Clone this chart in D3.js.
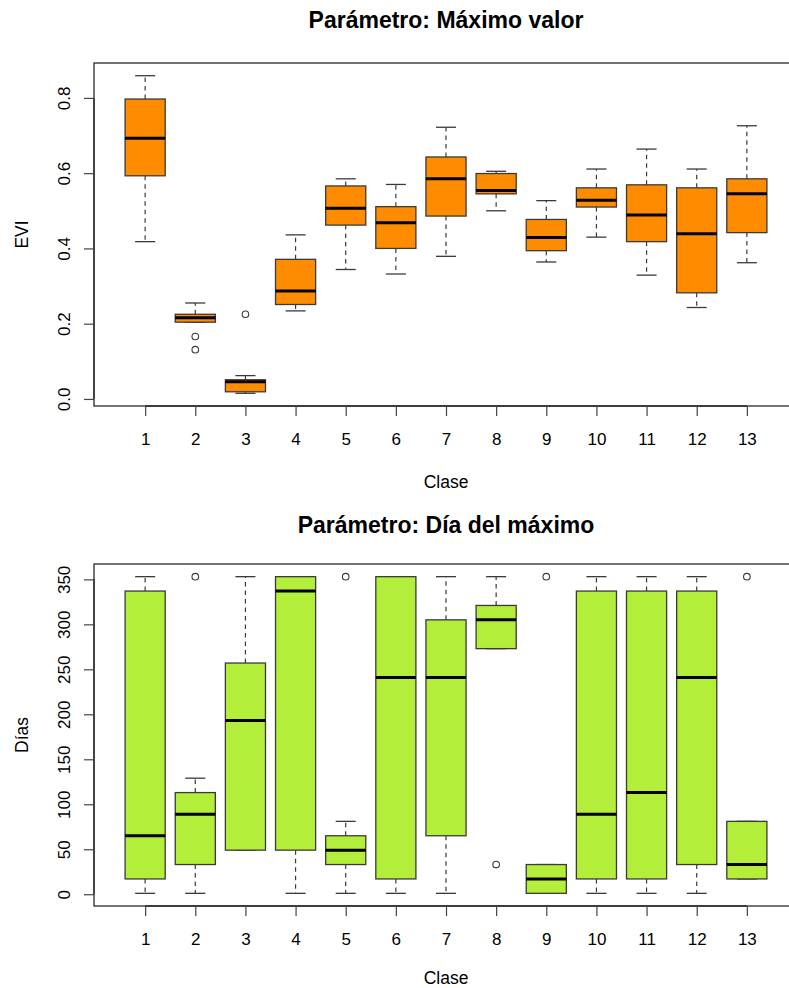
<!DOCTYPE html>
<html>
<head>
<meta charset="utf-8">
<script src="https://cdn.jsdelivr.net/npm/d3@7/dist/d3.min.js"></script>
<style>
  html, body { margin: 0; padding: 0; background: #fff; }
  svg { display: block; }
  text { font-family: "Liberation Sans", Arial, sans-serif; fill: #000; }
</style>
</head>
<body>
<svg id="chart" width="789" height="988"></svg>
<script>
// Classes on the x axis
const classes = [1, 2, 3, 4, 5, 6, 7, 8, 9, 10, 11, 12, 13];

// Panel 1: maximum EVI value per class (boxplot statistics)
const eviLow    = [0.418, 0.204, 0.015, 0.234, 0.344, 0.332, 0.379, 0.500, 0.364, 0.430, 0.329, 0.243, 0.362];
const eviQ1     = [0.593, 0.204, 0.019, 0.251, 0.462, 0.400, 0.486, 0.545, 0.394, 0.510, 0.418, 0.282, 0.442];
const eviMedian = [0.693, 0.216, 0.046, 0.287, 0.507, 0.468, 0.585, 0.554, 0.429, 0.528, 0.489, 0.439, 0.545];
const eviQ3     = [0.797, 0.225, 0.051, 0.371, 0.566, 0.511, 0.643, 0.599, 0.477, 0.561, 0.569, 0.561, 0.585];
const eviHigh   = [0.859, 0.255, 0.062, 0.436, 0.585, 0.570, 0.722, 0.605, 0.527, 0.611, 0.664, 0.611, 0.726];
const eviOutClass = [2, 2, 3];
const eviOutValue = [0.166, 0.131, 0.225];
const eviTicks = [0.0, 0.2, 0.4, 0.6, 0.8];

// Panel 2: day of the year of the maximum per class
const dayLow    = [1, 1, 49, 1, 1, 1, 1, 273, 1, 1, 1, 1, 17];
const dayQ1     = [17, 33, 49, 49, 33, 17, 65, 273, 1, 17, 17, 33, 17];
const dayMedian = [65, 89, 193, 337, 49, 241, 241, 305, 17, 89, 113, 241, 33];
const dayQ3     = [337, 113, 257, 353, 65, 353, 305, 321, 33, 337, 337, 337, 81];
const dayHigh   = [353, 129, 353, 353, 81, 353, 353, 353, 33, 353, 353, 353, 81];
const dayOutClass = [2, 5, 8, 9, 13];
const dayOutValue = [353, 353, 33, 353, 353];
const dayTicks = [0, 50, 100, 150, 200, 250, 300, 350];

const svg = d3.select("#chart");

function panel(opts) {
  const { top, bottom, left, right, title, titleY, xLabelY, yLabel, fill,
          lo, q1, med, q3, hi, outC, outV, ticks, fmt } = opts;
  const g = svg.append("g");

  // x scale: boxes at 1..n, limits 0.5..n+0.5 widened by 4%
  const n = classes.length;
  const x = d3.scaleLinear()
    .domain([0.5 - 0.04 * n, n + 0.5 + 0.04 * n])
    .range([left, right]);

  // y scale: data range widened by 4%
  const all = lo.concat(hi, outV);
  const yMin = d3.min(all), yMax = d3.max(all);
  const pad = (yMax - yMin) * 0.04;
  const y = d3.scaleLinear().domain([yMin - pad, yMax + pad]).range([bottom, top]);

  const boxW = (x(1.4) - x(0.6));
  const capW = boxW / 2;
  const stroke = "#3a3a3a";

  const data = classes.map((c, i) => ({ c, lo: lo[i], q1: q1[i], med: med[i], q3: q3[i], hi: hi[i] }));

  const box = g.selectAll("g.box").data(data).join("g").attr("class", "box");

  // dashed whiskers
  box.append("line")
    .attr("x1", d => x(d.c)).attr("x2", d => x(d.c))
    .attr("y1", d => y(d.q3)).attr("y2", d => y(d.hi))
    .attr("stroke", stroke).attr("stroke-width", 1.2).attr("stroke-dasharray", "4.5,4")
    .attr("display", d => d.hi > d.q3 ? null : "none");
  box.append("line")
    .attr("x1", d => x(d.c)).attr("x2", d => x(d.c))
    .attr("y1", d => y(d.q1)).attr("y2", d => y(d.lo))
    .attr("stroke", stroke).attr("stroke-width", 1.2).attr("stroke-dasharray", "4.5,4")
    .attr("display", d => d.lo < d.q1 ? null : "none");
  // whisker caps
  box.append("line")
    .attr("x1", d => x(d.c) - capW / 2).attr("x2", d => x(d.c) + capW / 2)
    .attr("y1", d => y(d.hi)).attr("y2", d => y(d.hi))
    .attr("stroke", stroke).attr("stroke-width", 1.3);
  box.append("line")
    .attr("x1", d => x(d.c) - capW / 2).attr("x2", d => x(d.c) + capW / 2)
    .attr("y1", d => y(d.lo)).attr("y2", d => y(d.lo))
    .attr("stroke", stroke).attr("stroke-width", 1.3);
  // boxes
  box.append("rect")
    .attr("x", d => x(d.c) - boxW / 2)
    .attr("y", d => y(d.q3))
    .attr("width", boxW)
    .attr("height", d => Math.max(0, y(d.q1) - y(d.q3)))
    .attr("fill", fill).attr("stroke", stroke).attr("stroke-width", 1.3);
  // medians
  box.append("line")
    .attr("x1", d => x(d.c) - boxW / 2).attr("x2", d => x(d.c) + boxW / 2)
    .attr("y1", d => y(d.med)).attr("y2", d => y(d.med))
    .attr("stroke", "#000").attr("stroke-width", 3);

  // outliers
  g.selectAll("circle.out").data(outC.map((c, i) => ({ c, v: outV[i] }))).join("circle")
    .attr("class", "out")
    .attr("cx", d => x(d.c)).attr("cy", d => y(d.v)).attr("r", 3.3)
    .attr("fill", "none").attr("stroke", stroke).attr("stroke-width", 1.1);

  // frame
  g.append("rect")
    .attr("x", left).attr("y", top).attr("width", right - left).attr("height", bottom - top)
    .attr("fill", "none").attr("stroke", "#2a2a2a").attr("stroke-width", 1.3);

  // x axis
  const xAxis = d3.axisBottom(x).tickValues(classes).tickSize(10).tickPadding(0).tickFormat(d3.format("d"));
  const xg = g.append("g").attr("transform", `translate(0,${bottom})`).call(xAxis);
  xg.select(".domain").attr("d", `M${x(1)},0H${x(n)}`).attr("stroke", "#2a2a2a").attr("stroke-width", 1.3);
  xg.selectAll(".tick line").attr("stroke", "#444").attr("stroke-width", 1.2);
  xg.selectAll(".tick text")
    .attr("y", 39).attr("dy", null)
    .style("font-size", "17px").style("font-family", "Liberation Sans, Arial, sans-serif").attr("fill", "#000");

  // y axis
  const yAxis = d3.axisLeft(y).tickValues(ticks).tickSize(10).tickFormat(fmt);
  const yg = g.append("g").attr("transform", `translate(${left},0)`).call(yAxis);
  yg.select(".domain").attr("d", `M0,${y(ticks[0])}V${y(ticks[ticks.length - 1])}`).attr("stroke", "#2a2a2a").attr("stroke-width", 1.3);
  yg.selectAll(".tick line").attr("stroke", "#444").attr("stroke-width", 1.2);
  yg.selectAll(".tick text")
    .attr("x", null).attr("dy", null)
    .attr("text-anchor", "middle")
    .attr("transform", `translate(${70 - left},0) rotate(-90)`)
    .style("font-size", "17px").style("font-family", "Liberation Sans, Arial, sans-serif").attr("fill", "#000");

  // labels
  g.append("text")
    .attr("x", (left + right) / 2).attr("y", titleY)
    .attr("text-anchor", "middle")
    .style("font-size", "23px").style("font-weight", "bold")
    .text(title);
  g.append("text")
    .attr("x", (left + right) / 2).attr("y", xLabelY)
    .attr("text-anchor", "middle")
    .style("font-size", "17.5px")
    .text("Clase");
  g.append("text")
    .attr("transform", `translate(28,${(top + bottom) / 2}) rotate(-90)`)
    .attr("text-anchor", "middle")
    .style("font-size", "17.5px")
    .text(yLabel);
}

panel({
  top: 63, bottom: 406, left: 94, right: 798,
  title: "Parámetro: Máximo valor", titleY: 28, xLabelY: 488, yLabel: "EVI", fill: "#FF8C00",
  lo: eviLow, q1: eviQ1, med: eviMedian, q3: eviQ3, hi: eviHigh,
  outC: eviOutClass, outV: eviOutValue, ticks: eviTicks, fmt: d3.format(".1f")
});

panel({
  top: 564, bottom: 906, left: 94, right: 798,
  title: "Parámetro: Día del máximo", titleY: 533, xLabelY: 984, yLabel: "Días", fill: "#B3EE3A",
  lo: dayLow, q1: dayQ1, med: dayMedian, q3: dayQ3, hi: dayHigh,
  outC: dayOutClass, outV: dayOutValue, ticks: dayTicks, fmt: d3.format("d")
});
</script>
</body>
</html>
